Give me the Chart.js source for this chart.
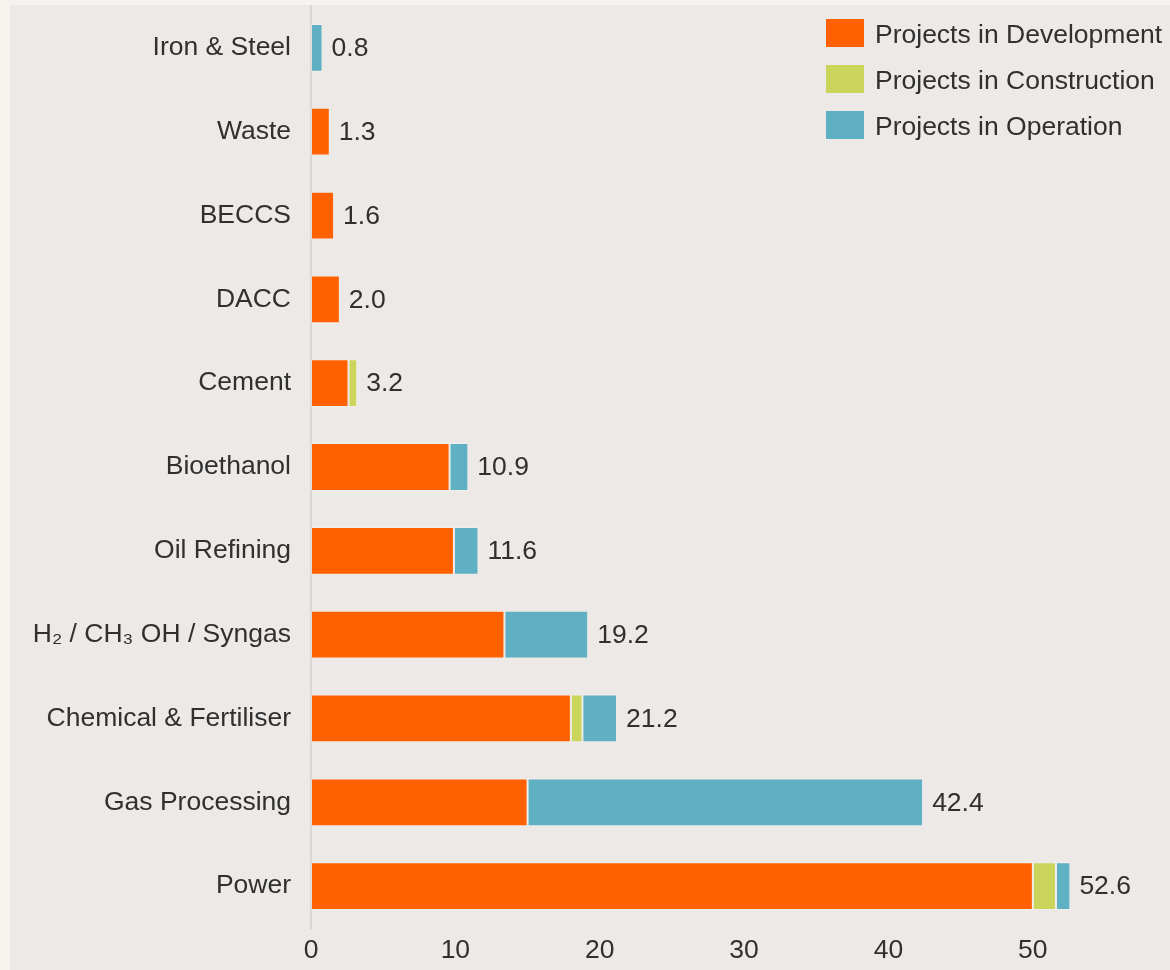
<!DOCTYPE html>
<html>
<head>
<meta charset="utf-8">
<script src="https://cdn.jsdelivr.net/npm/chart.js@4.4.1/dist/chart.umd.min.js"></script>
<style>
    html, body {
        margin: 0;
        padding: 0;
        background: #f6f3ef;
        font-family: "Liberation Sans", Arial, sans-serif;
    }
    #wrap {
        position: absolute;
        left: 10px;
        top: 5px;
        width: 1160px;
        height: 965px;
        background: #ece9e6;
    }
    #fontProbe {
        position: absolute;
        left: -9999px;
        font: 26px "Liberation Sans";
    }
</style>
</head>
<body>
<span id="fontProbe">Projects 0123456789</span>
<div id="wrap">
    <canvas id="ccsChart" width="1160" height="965"></canvas>
</div>
<script>
// Сектора (сверху вниз)
const sectors = [
    'Iron & Steel', 'Waste', 'BECCS', 'DACC', 'Cement', 'Bioethanol',
    'Oil Refining', 'H\u2082 / CH\u2083 OH / Syngas', 'Chemical & Fertiliser',
    'Gas Processing', 'Power'
];

// Мощность по стадиям проектов
const development  = [0,   1.3, 1.6, 2.0, 2.6, 9.6, 9.9, 13.4, 18.0, 15.0, 50.0];
const construction = [0,   0,   0,   0,   0.6, 0,   0,   0,    0.8,  0,    1.6];
const operation    = [0.8, 0,   0,   0,   0,   1.3, 1.7, 5.8,  2.4,  27.4, 1.0];

const xTicks = [0, 10, 20, 30, 40, 50];

const seriesNames  = ['Projects in Development', 'Projects in Construction', 'Projects in Operation'];
const seriesColors = ['#ff6000', '#cbd45b', '#5fb0c3'];

const textColor = '#303030';
const fontFamily = 'Liberation Sans';
const fontSize = 26.5;

// Подписи сумм справа от столбцов
const totalsPlugin = {
    id: 'totals',
    afterDatasetsDraw(chart) {
        const ctx = chart.ctx;
        const x = chart.scales.x;
        const y = chart.scales.y;
        ctx.save();
        ctx.font = fontSize + 'px "' + fontFamily + '"';
        ctx.fillStyle = textColor;
        ctx.textAlign = 'left';
        ctx.textBaseline = 'middle';
        sectors.forEach(function(s, i) {
            const total = development[i] + construction[i] + operation[i];
            ctx.fillText(total.toFixed(1), x.getPixelForValue(total) + 9, y.getPixelForValue(i) + 1);
        });
        ctx.restore();
    }
};

// Легенда в правом верхнем углу
const legendPlugin = {
    id: 'cornerLegend',
    afterDraw(chart) {
        const ctx = chart.ctx;
        ctx.save();
        ctx.font = fontSize + 'px "' + fontFamily + '"';
        ctx.textBaseline = 'middle';
        chart.data.datasets.forEach(function(ds, i) {
            const top = 14 + i * 46;
            ctx.fillStyle = ds.backgroundColor;
            ctx.fillRect(816, top, 38, 28);
            ctx.fillStyle = textColor;
            ctx.fillText(ds.label, 865, top + 17);
        });
        ctx.restore();
    }
};

function drawChart() {
    new Chart(document.getElementById('ccsChart'), {
        type: 'bar',
        data: {
            labels: sectors,
            datasets: [development, construction, operation].map(function(values, i) {
                return {
                    label: seriesNames[i],
                    data: values,
                    backgroundColor: seriesColors[i],
                    borderColor: 'rgba(255,255,255,0.25)',
                    borderWidth: 1,
                    borderSkipped: false,
                    categoryPercentage: 1,
                    barPercentage: 0.57
                };
            })
        },
        options: {
            indexAxis: 'y',
            responsive: false,
            animation: false,
            devicePixelRatio: 1,
            layout: {
                padding: { top: 1, right: 0, left: 0, bottom: 0 }
            },
            plugins: {
                legend: { display: false },
                tooltip: { enabled: false }
            },
            scales: {
                x: {
                    stacked: true,
                    min: 0,
                    max: 59.5,
                    afterBuildTicks: function(scale) {
                        scale.ticks = xTicks.map(function(v) { return { value: v }; });
                    },
                    afterFit: function(scale) {
                        scale.height = 42;
                        scale.paddingLeft = 0;
                        scale.paddingRight = 0;
                    },
                    ticks: {
                        color: textColor,
                        font: { family: fontFamily, size: fontSize },
                        padding: 7,
                        maxRotation: 0
                    },
                    grid: { display: false, drawTicks: false },
                    border: { display: false }
                },
                y: {
                    stacked: true,
                    afterFit: function(scale) {
                        scale.width = 301;
                        scale.paddingTop = 0;
                        scale.paddingBottom = 0;
                    },
                    ticks: {
                        color: textColor,
                        font: { family: fontFamily, size: fontSize },
                        padding: 20
                    },
                    grid: { display: false, drawTicks: false },
                    border: { display: true, color: '#d8d5d2', width: 2 }
                }
            }
        },
        plugins: [totalsPlugin, legendPlugin]
    });
}

if (document.fonts && document.fonts.load) {
    document.fonts.load(fontSize + 'px "' + fontFamily + '"').then(drawChart, drawChart);
} else {
    drawChart();
}
</script>
</body>
</html>
